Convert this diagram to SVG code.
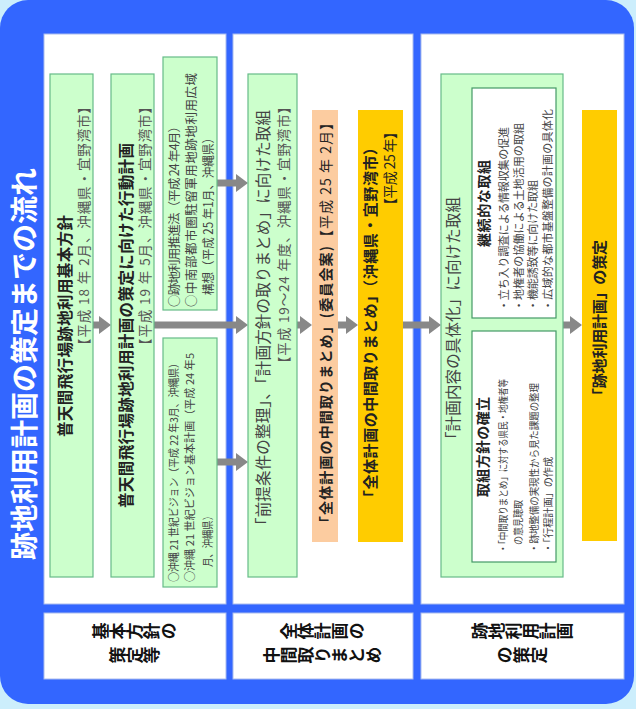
<svg xmlns="http://www.w3.org/2000/svg" width="636" height="709" viewBox="0 0 636 709">
<defs>
<style>
text{font-family:"Noto Sans CJK JP","Noto Sans CJK SC",sans-serif;dominant-baseline:central}
.b{font-weight:bold;fill:#222}
.g{fill:#555}
.d{fill:#444}
.grn{fill:#ccffcc;stroke:#66bb88;stroke-width:1.2}
.inr{fill:#fff;stroke:#449966;stroke-width:1.2}
.pnl{fill:#fff;stroke:#aabbee;stroke-width:1}
.conn{stroke:#888;stroke-width:7;fill:none;marker-end:url(#ah)}
.lbl{font-weight:bold;fill:#111;font-size:17px;writing-mode:vertical-rl}
</style>
<marker id="ah" markerUnits="userSpaceOnUse" markerWidth="13" markerHeight="19" refX="0" refY="9" orient="auto">
<path d="M0,0 L12,9 L0,18 Z" fill="#888"/>
</marker>
</defs>
<rect x="0" y="0" width="636" height="709" fill="#cceefc"/>
<rect x="0" y="0" width="634" height="704" rx="28" fill="#3366ff"/>
<text transform="translate(23,560) rotate(-90)" font-size="28" font-weight="bold" fill="#fff" textLength="392">跡地利用計画の策定までの流れ</text>

<g id="panels">
<rect class="pnl" x="44" y="34" width="182" height="570"/>
<rect class="pnl" x="233" y="34" width="180" height="570"/>
<rect class="pnl" x="421" y="34" width="203" height="570"/>
</g>

<g id="label1">
<rect class="pnl" x="44" y="613" width="182" height="66"/>
<text class="lbl" text-anchor="middle" transform="translate(135,631) rotate(-90)">基本方針の</text>
<text class="lbl" text-anchor="middle" transform="translate(135,655) rotate(-90)">策定等</text>
</g>
<g id="label2">
<rect class="pnl" x="233" y="613" width="180" height="66"/>
<text class="lbl" text-anchor="middle" transform="translate(323,631) rotate(-90)">全体計画の</text>
<text class="lbl" text-anchor="middle" transform="translate(323,655) rotate(-90)">中間取りまとめ</text>
</g>
<g id="label3">
<rect class="pnl" x="421" y="613" width="203" height="66"/>
<text class="lbl" text-anchor="middle" transform="translate(522,631) rotate(-90)">跡地利用計画</text>
<text class="lbl" text-anchor="middle" transform="translate(522,655) rotate(-90)">の策定</text>
</g>

<g id="connectors">
<path class="conn" d="M93,325 H99"/>
<path class="conn" d="M154,325 H236"/>
<path class="conn" d="M217,183 H236"/>
<path class="conn" d="M217,462 H236"/>
<path class="conn" d="M297,325 H300"/>
<path class="conn" d="M338,325 H346"/>
<path class="conn" d="M403,325 H429"/>
<path class="conn" d="M563,325 H570"/>
</g>

<g id="boxA">
<rect class="grn" x="50" y="74" width="43" height="503"/>
<text class="b" font-size="15.5" transform="translate(64,437) rotate(-90)" textLength="222">普天間飛行場跡地利用基本方針</text>
<text class="g" font-size="13.5" transform="translate(83,352) rotate(-90)" textLength="252">【平成 18 年 2月、沖縄県・宜野湾市】</text>
</g>

<g id="boxB">
<rect class="grn" x="111" y="74" width="43" height="503"/>
<text class="b" font-size="15.5" transform="translate(125,508) rotate(-90)" textLength="365">普天間飛行場跡地利用計画の策定に向けた行動計画</text>
<text class="g" font-size="13.5" transform="translate(144,352) rotate(-90)" textLength="252">【平成 19 年 5月、沖縄県・宜野湾市】</text>
</g>

<g id="boxC">
<rect class="grn" x="163" y="57" width="54" height="253"/>
<text class="d" font-size="12.5" transform="translate(173,307) rotate(-90)" textLength="187">○跡地利用推進法（平成 24 年4月）</text>
<text class="d" font-size="12.5" transform="translate(190,307) rotate(-90)" textLength="234">○中南部都市圏駐留軍用地跡地利用広域</text>
<text class="d" font-size="12.5" transform="translate(207,295) rotate(-90)" textLength="163" lengthAdjust="spacingAndGlyphs">構想（平成 25 年1月、沖縄県）</text>
</g>

<g id="boxD">
<rect class="grn" x="163" y="338" width="54" height="249"/>
<text class="d" font-size="11" transform="translate(173,582) rotate(-90)" textLength="224" lengthAdjust="spacingAndGlyphs">○沖縄 21 世紀ビジョン（平成 22 年3月、沖縄県）</text>
<text class="d" font-size="11" transform="translate(189,582) rotate(-90)" textLength="229">○沖縄 21 世紀ビジョン基本計画（平成 24 年5</text>
<text class="d" font-size="11" transform="translate(207,567) rotate(-90)" textLength="56" lengthAdjust="spacingAndGlyphs">月、沖縄県）</text>
</g>

<g id="boxE">
<rect class="grn" x="248" y="74" width="49" height="503"/>
<text class="d" font-size="15.5" transform="translate(262,533) rotate(-90)" textLength="423">「前提条件の整理」、「計画方針の取りまとめ」に向けた取組</text>
<text class="g" font-size="13.5" transform="translate(283,370) rotate(-90)" textLength="270">【平成 19〜24 年度、沖縄県・宜野湾市】</text>
</g>

<g id="boxF">
<rect x="312" y="110" width="26" height="432" fill="#fccca0"/>
<text class="b" font-size="14" fill="#111" transform="translate(325,530) rotate(-90)" textLength="284">「全体計画の中間取りまとめ」(委員会案)</text>
<text font-size="14" fill="#222" transform="translate(325,244) rotate(-90)" textLength="128">【平成 25 年 2月】</text>
</g>

<g id="boxG">
<rect x="358" y="110" width="45" height="432" fill="#ffcc00"/>
<text class="b" font-size="15" transform="translate(369,505) rotate(-90)" textLength="365">「全体計画の中間取りまとめ」（沖縄県・宜野湾市）</text>
<text font-size="14" fill="#222" transform="translate(389,212) rotate(-90)" textLength="87">【平成 25 年】</text>
</g>

<g id="boxH">
<rect class="grn" x="441" y="74" width="122" height="503"/>
<text class="d" font-size="15.5" transform="translate(452,447) rotate(-90)" textLength="250">「計画内容の具体化」に向けた取組</text>
</g>

<g id="boxI">
<rect class="inr" x="472" y="88" width="84" height="230"/>
<text class="b" font-size="14" transform="translate(483,247) rotate(-90)" textLength="87">継続的な取組</text>
<text class="d" font-size="11" transform="translate(503,311) rotate(-90)" textLength="184">・立ち入り調査による情報収集の促進</text>
<text class="d" font-size="11" transform="translate(518,311) rotate(-90)" textLength="188">・地権者の協働による土地活用の取組</text>
<text class="d" font-size="11" transform="translate(532,311) rotate(-90)" textLength="131">・機能誘致等に向けた取組</text>
<text class="d" font-size="11" transform="translate(547,311) rotate(-90)" textLength="202">・広域的な都市基盤整備の計画の具体化</text>
</g>

<g id="boxJ">
<rect class="inr" x="472" y="331" width="84" height="231"/>
<text class="b" font-size="14" transform="translate(482,497) rotate(-90)" textLength="100">取組方針の確立</text>
<text class="d" font-size="10.5" transform="translate(502,553) rotate(-90)" textLength="174" lengthAdjust="spacingAndGlyphs">・「中間取りまとめ」に対する県民・地権者等</text>
<text class="d" font-size="10.5" transform="translate(517,545) rotate(-90)" textLength="45" lengthAdjust="spacingAndGlyphs">の意見聴取</text>
<text class="d" font-size="10.5" transform="translate(533,553) rotate(-90)" textLength="170" lengthAdjust="spacingAndGlyphs">・跡地整備の実現性から見た課題の整理</text>
<text class="d" font-size="10.5" transform="translate(547,553) rotate(-90)" textLength="96" lengthAdjust="spacingAndGlyphs">・「行程計画」の作成</text>
</g>

<g id="boxK">
<rect x="582" y="110" width="35" height="431" fill="#ffcc00"/>
<text class="b" font-size="15" transform="translate(598,403) rotate(-90)" textLength="163">「跡地利用計画」の策定</text>
</g>
</svg>
